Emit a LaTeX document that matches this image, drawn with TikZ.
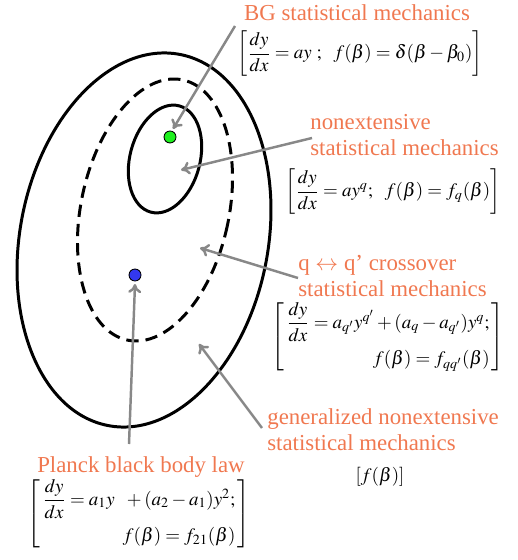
\documentclass[tikz,border=0pt]{standalone}
\usepackage{amsmath}
\usepackage{mathptmx}
\usepackage{fontspec}
\setmainfont{Liberation Serif}
\usepackage{xcolor}
\usepackage{tikz}
\usetikzlibrary{arrows.meta,positioning}
\definecolor{statorange}{HTML}{F07850}
\definecolor{statgray}{HTML}{888888}
\definecolor{statgreen}{HTML}{1EF01E}
\definecolor{statblue}{HTML}{3338F0}

\begin{document}
\begin{tikzpicture}[x=0.02cm, y=-0.02cm, every node/.style={inner sep=0pt}]
    \tikzstyle{label}=[text=statorange,font=\fontsize{13}{14.7}\selectfont,align=left]
    \tikzstyle{formula}=[font=\fontsize{10.8}{13}\selectfont]
    \tikzstyle{region}=[line width=1.7pt]
    \tikzstyle{pointer}=[-{To[length=1.8mm,width=2.6mm]},line width=1.4pt,statgray]
    \tikzstyle{dot}=[circle,draw=black,line width=0.5pt,minimum size=0.24cm]
    \useasboundingbox (0,0) rectangle (517,560);
    % regions
    \draw[region,rotate around={-11:(144,240)}] (144,240) ellipse [x radius=124, y radius=189];
    \draw[region,dash pattern=on 7pt off 4pt,rotate around={-12:(155,210)}] (155,210) ellipse [x radius=74, y radius=133];
    \draw[region,rotate around={-15:(165,159)}] (165,159) ellipse [x radius=35, y radius=55];
    \node[dot,fill=statgreen] (bgdot) at (170,137) {};
    \node[dot,fill=statblue] (planckdot) at (135,275) {};
    % labels
    \node[label] (bg) at (357,13) {BG statistical mechanics};
    \node[formula] (bgeq) at (360,54) {$\left[\dfrac{dy}{dx}=ay\ ;\ \ f(\beta)=\delta(\beta-\beta_{0})\right]$};
    \node[label,anchor=west] (nonext) at (310,135) {nonextensive\\statistical mechanics};
    \node[formula] (nonexteq) at (393,192) {$\left[\dfrac{dy}{dx}=ay^{q};\ \ f(\beta)=f_{q}(\beta)\right]$};
    \node[label,anchor=west] (cross) at (298,276) {q $\leftrightarrow$ q’ crossover\\statistical mechanics};
    \node[formula] (crosseq) at (388,337) {$\left[\begin{array}{@{\,}r@{\,}}\dfrac{dy}{dx}=a_{q'}y^{q'}+(a_{q}-a_{q'})y^{q};\\[8pt] f(\beta)=f_{qq'}(\beta)\end{array}\right]$};
    \node[label,anchor=west] (general) at (267,430) {generalized nonextensive\\statistical mechanics};
    \node[formula] (generaleq) at (380,477) {$\left[f(\beta)\right]$};
    \node[label] (planck) at (141,467) {Planck black body law};
    \node[formula] (planckeq) at (139,514) {$\left[\begin{array}{@{\,}r@{\,}}\dfrac{dy}{dx}=a_{1}y\ \ +(a_{2}-a_{1})y^{2};\\[8pt] f(\beta)=f_{21}(\beta)\end{array}\right]$};
    % pointers
    \coordinate (bgfrom) at (235,26);
    \coordinate (bgto) at (173,129);
    \coordinate (nonextfrom) at (312,138);
    \coordinate (nonextto) at (181,170);
    \coordinate (crossfrom) at (298,278);
    \coordinate (crossto) at (200,248);
    \coordinate (generalfrom) at (262,428);
    \coordinate (generalto) at (199,344);
    \coordinate (planckfrom) at (129,444);
    \coordinate (planckto) at (135,284);
    \draw[pointer] (bgfrom) -- (bgto);
    \draw[pointer] (nonextfrom) -- (nonextto);
    \draw[pointer] (crossfrom) -- (crossto);
    \draw[pointer] (generalfrom) -- (generalto);
    \draw[pointer] (planckfrom) -- (planckto);
\end{tikzpicture}
\end{document}
